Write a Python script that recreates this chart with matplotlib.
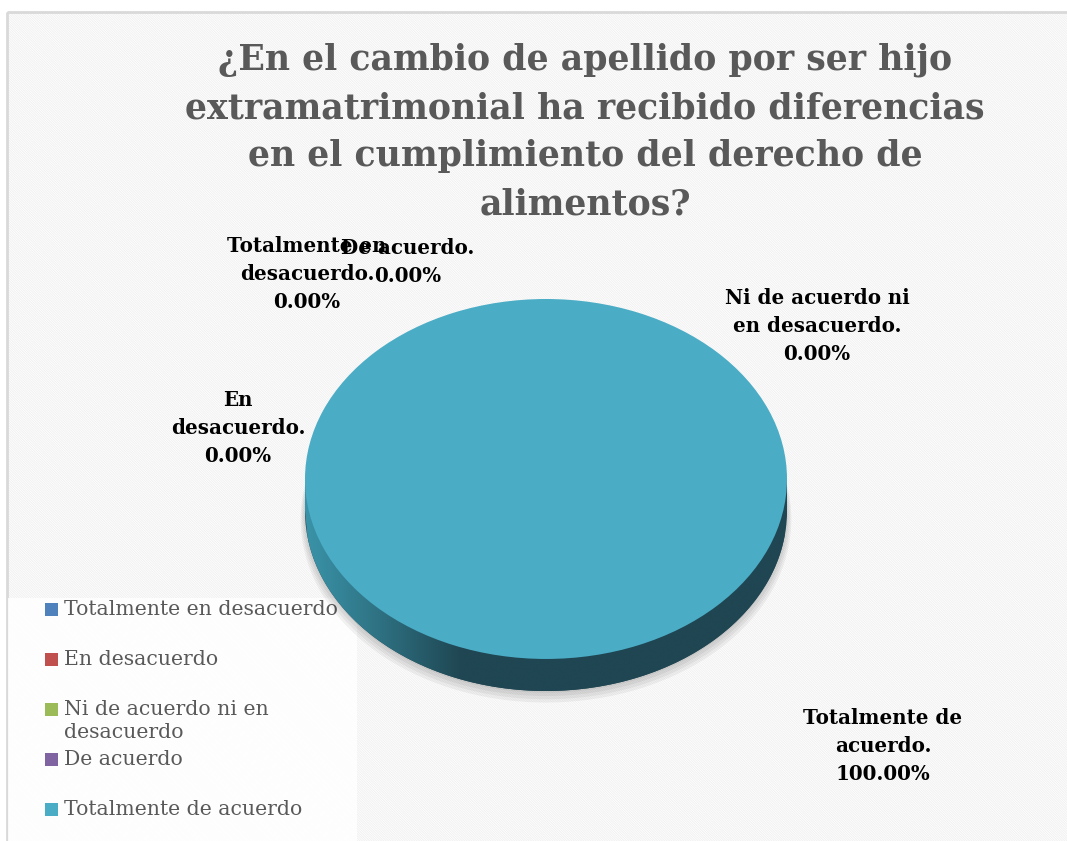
import numpy as np
import matplotlib.pyplot as plt
from matplotlib.patches import Rectangle, Polygon

plt.rcParams['font.family'] = ['DejaVu Serif']
plt.rcParams['hatch.linewidth'] = 0.7

# datos
categorias = ['Totalmente en desacuerdo', 'En desacuerdo',
              'Ni de acuerdo ni en desacuerdo', 'De acuerdo',
              'Totalmente de acuerdo']
valores = [0, 0, 0, 0, 100]
colores = ['#4f81bd', '#c0504d', '#9bbb59', '#8064a2', '#4bacc6']
colores_lado = ['#2b4a6e', '#6b2c2a', '#56683a', '#47385a', '#1f4652']
etiquetas_leyenda = ['Totalmente en desacuerdo', 'En desacuerdo',
                     'Ni de acuerdo ni en\ndesacuerdo', 'De acuerdo',
                     'Totalmente de acuerdo']
etiquetas_pie = ['Totalmente en\ndesacuerdo', 'En\ndesacuerdo',
                 'Ni de acuerdo ni\nen desacuerdo', 'De acuerdo',
                 'Totalmente de\nacuerdo']
titulo = ('¿En el cambio de apellido por ser hijo\n'
          'extramatrimonial ha recibido diferencias\n'
          'en el cumplimiento del derecho de\nalimentos?')

W, H = 1067, 841
fig = plt.figure(figsize=(W / 100, H / 100), dpi=100)

# fondo en pixeles
bg = fig.add_axes([0, 0, 1, 1])
bg.set_xlim(0, W)
bg.set_ylim(H, 0)
bg.axis('off')
fondo = Rectangle((7, 12), W, H, facecolor='white', hatch='\\' * 14, linewidth=0)
fondo.set_edgecolor('#f1f1f1')
bg.add_patch(fondo)
bg.add_patch(Rectangle((7, 12), W, H, facecolor='none', edgecolor='#d9d9d9',
                       linewidth=2))

bg.text(585, 132, titulo, ha='center', va='center', fontsize=25,
        fontweight='bold', color='#595959', linespacing=1.53)

# pastel 3D
espesor = 0.178
x0, x1, y0, y1 = 305, 787, 299, 691
ax = fig.add_axes([x0 / W, 1 - y1 / H, (x1 - x0) / W, (y1 - y0) / H])

# sombra
for k in range(4):
    ax.pie(valores, colors=['#000000'] * 5, startangle=90, counterclock=False,
           center=(0, -espesor - 0.01 - 0.012 * k), radius=1.0 + 0.006 * k,
           wedgeprops=dict(linewidth=0, alpha=0.05))

ax.pie(valores, colors=colores_lado, startangle=90, counterclock=False,
       center=(0, -espesor), wedgeprops=dict(linewidth=0))
ax.fill_between([-1, 1], -espesor, 0, color=colores_lado[4], linewidth=0)

# degradado lateral
xs = np.linspace(-1, 1, 200)
borde = np.column_stack([xs[::-1], -espesor - np.sqrt(np.clip(1 - xs[::-1] ** 2, 0, 1))])
clip = Polygon(np.vstack([[[-1, 0], [1, 0]], borde]), closed=True,
               transform=ax.transData, facecolor='none', edgecolor='none')
ax.add_patch(clip)
grad = np.interp(xs, [-1, -0.75, -0.35, 1], [0.0, 0.35, 1.0, 1.0])
c_claro = np.array([0x3a, 0x93, 0xa8]) / 255
c_osc = np.array([0x1f, 0x46, 0x52]) / 255
img = c_claro[None, :] * (1 - grad[:, None]) + c_osc[None, :] * grad[:, None]
im = ax.imshow(img[None, :, :], extent=(-1, 1, -1 - espesor, 0),
               aspect='auto', zorder=2, interpolation='bilinear')
im.set_clip_path(clip)

wedges, _ = ax.pie(valores, colors=colores, startangle=90, counterclock=False,
                   wedgeprops=dict(linewidth=0))
for w in wedges:
    w.set_zorder(3)
ax.set_aspect('auto')
ax.set_xlim(-1, 1)
ax.set_ylim(-1 - espesor, 1)
ax.axis('off')

# etiquetas de datos
pos_etq = [(307, 274), (238, 428), (817, 326), (408, 262), (883, 746)]
for (px, py), txt, v in zip(pos_etq, etiquetas_pie, valores):
    bg.text(px, py, f'{txt}.\n{v:.2f}%', ha='center', va='center',
            fontsize=14.3, fontweight='bold', color='black', linespacing=1.48)

# leyenda
bg.add_patch(Rectangle((8, 598), 349, 250, facecolor='white', alpha=0.85,
                       edgecolor='none'))
for i, (lab, c) in enumerate(zip(etiquetas_leyenda, colores)):
    yc = 609 + 50 * i
    bg.add_patch(Rectangle((45, yc - 6.5), 13, 13, facecolor=c, edgecolor='none'))
    bg.text(64, yc - 9, lab, ha='left', va='top', fontsize=14.7,
            color='#595959', linespacing=1.3)

fig.savefig('out.png', dpi=100)
